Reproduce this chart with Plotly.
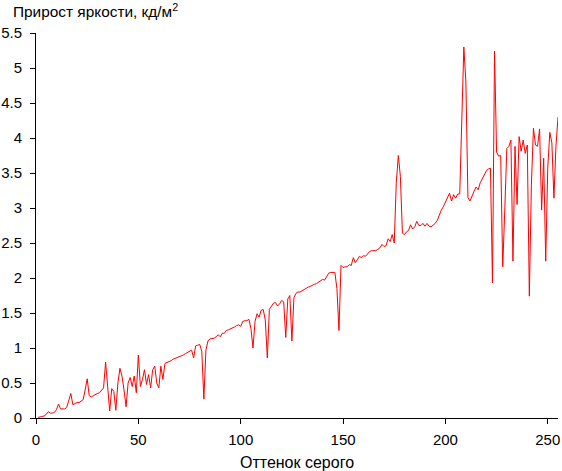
import plotly.graph_objects as go

# Gray level (x) and brightness increment (y)
gray_level = list(range(1, 256))
increment = [
    0.01, 0.01, 0.02, 0.03, 0.05, 0.09, 0.07, 0.07, 0.08, 0.12,   # 1-10
    0.20, 0.13, 0.13, 0.13, 0.15, 0.25, 0.35, 0.19, 0.21, 0.22,   # 11-20
    0.22, 0.24, 0.26, 0.40, 0.56, 0.32, 0.30, 0.32, 0.34, 0.35,   # 21-30
    0.36, 0.40, 0.43, 0.80, 0.40, 0.10, 0.42, 0.38, 0.11, 0.50,   # 31-40
    0.71, 0.60, 0.40, 0.16, 0.50, 0.58, 0.45, 0.60, 0.36, 0.90,   # 41-50
    0.45, 0.55, 0.69, 0.48, 0.62, 0.43, 0.69, 0.74, 0.50, 0.43,   # 51-60
    0.74, 0.55, 0.78, 0.79, 0.81, 0.82, 0.84, 0.85, 0.86, 0.88,   # 61-70
    0.89, 0.90, 0.92, 0.94, 0.96, 0.97, 0.86, 1.03, 1.04, 1.05,   # 71-80
    0.95, 0.27, 0.97, 1.10, 1.13, 1.13, 1.14, 1.16, 1.19, 1.16,   # 81-90
    1.21, 1.21, 1.25, 1.26, 1.27, 1.29, 1.30, 1.32, 1.33, 1.31,   # 91-100
    1.38, 1.39, 1.39, 1.41, 1.28, 1.00, 1.38, 1.49, 1.44, 1.54,   # 101-110
    1.55, 1.40, 0.86, 1.55, 1.60, 1.64, 1.65, 1.60, 1.63, 1.68,   # 111-120
    1.66, 1.15, 1.70, 1.75, 1.10, 1.72, 1.78, 1.80, 1.80, 1.82,   # 121-130
    1.84, 1.86, 1.87, 1.88, 1.90, 1.91, 1.92, 1.94, 1.96, 1.98,   # 131-140
    1.97, 2.02, 2.07, 2.08, 2.08, 2.08, 1.85, 1.25, 2.18, 2.15,   # 141-150
    2.16, 2.16, 2.19, 2.18, 2.29, 2.22, 2.26, 2.31, 2.29, 2.32,   # 151-160
    2.31, 2.35, 2.38, 2.39, 2.39, 2.39, 2.41, 2.43, 2.48, 2.45,   # 161-170
    2.46, 2.56, 2.52, 2.62, 2.50, 3.36, 3.75, 3.45, 2.64, 2.62,   # 171-180
    2.66, 2.68, 2.76, 2.70, 2.73, 2.81, 2.75, 2.75, 2.78, 2.74,   # 181-190
    2.78, 2.74, 2.73, 2.75, 2.78, 2.82, 2.90, 2.97, 3.02, 3.08,   # 191-200
    3.16, 3.21, 3.10, 3.19, 3.14, 3.20, 3.20, 4.20, 5.30, 4.80,   # 201-210
    3.15, 3.10, 3.18, 3.24, 3.30, 3.26, 3.36, 3.42, 3.48, 3.53,   # 211-220
    3.56, 3.57, 1.93, 5.24, 3.80, 3.74, 3.75, 2.16, 2.97, 3.85,   # 221-230
    3.88, 3.97, 2.24, 3.88, 3.05, 4.02, 3.81, 3.97, 3.78, 3.90,   # 231-240
    1.74, 3.33, 4.14, 3.90, 3.88, 4.13, 2.97, 3.71, 2.24, 3.57,   # 241-250
    4.08, 3.93, 3.14, 3.88, 4.30,                                 # 251-255
]

x_ticks = [0, 50, 100, 150, 200, 250]
y_ticks = [0, 0.5, 1, 1.5, 2, 2.5, 3, 3.5, 4, 4.5, 5, 5.5]
y_tick_labels = ["0", "0.5", "1", "1.5", "2", "2.5", "3", "3.5", "4", "4.5", "5", "5.5"]

title_text = "Прирост яркости, кд/м<sup>2</sup>"
x_title = "Оттенок серого"

W, H = 562, 471

fig = go.Figure(
    go.Scatter(
        x=gray_level,
        y=increment,
        mode="lines",
        line=dict(color="#ff0000", width=1),
        hoverinfo="skip",
    )
)

tick_font = dict(family="Liberation Sans, Arial, sans-serif", size=15, color="#000000")
title_font = dict(family="Liberation Sans, Arial, sans-serif", size=15.4, color="#000000")
xtitle_font = dict(family="Liberation Sans, Arial, sans-serif", size=16, color="#000000")

fig.update_layout(
    width=W,
    height=H,
    margin=dict(l=36, r=4, t=33, b=53, autoexpand=False),
    paper_bgcolor="white",
    plot_bgcolor="white",
    font=tick_font,
    showlegend=False,
    hovermode=False,
    title=dict(
        text=title_text,
        x=13 / W,
        xanchor="left",
        xref="container",
        y=1 - 12 / H,
        yanchor="middle",
        yref="container",
        font=title_font,
    ),
)

fig.update_xaxes(
    range=[0, 255],
    tickvals=x_ticks,
    ticks="outside",
    ticklen=5,
    tickcolor="black",
    showline=True,
    linecolor="black",
    linewidth=1,
    showgrid=False,
    zeroline=False,
    automargin=False,
    ticklabelstandoff=3,
    title=dict(text=x_title, font=xtitle_font, standoff=10),
    tickfont=tick_font,
)

fig.update_yaxes(
    range=[0, 5.5],
    tickvals=y_ticks,
    ticktext=y_tick_labels,
    ticks="outside",
    ticklen=5,
    tickcolor="black",
    showline=True,
    linecolor="black",
    linewidth=1,
    showgrid=False,
    zeroline=False,
    automargin=False,
    ticklabelstandoff=5,
    tickfont=tick_font,
)

# remove the page's default 8px body margin so the figure sits at the window origin
fig.write_html(
    "out.html",
    config={"displayModeBar": False, "staticPlot": True},
    post_script="document.body.style.margin='0';document.body.style.overflow='hidden';",
)
